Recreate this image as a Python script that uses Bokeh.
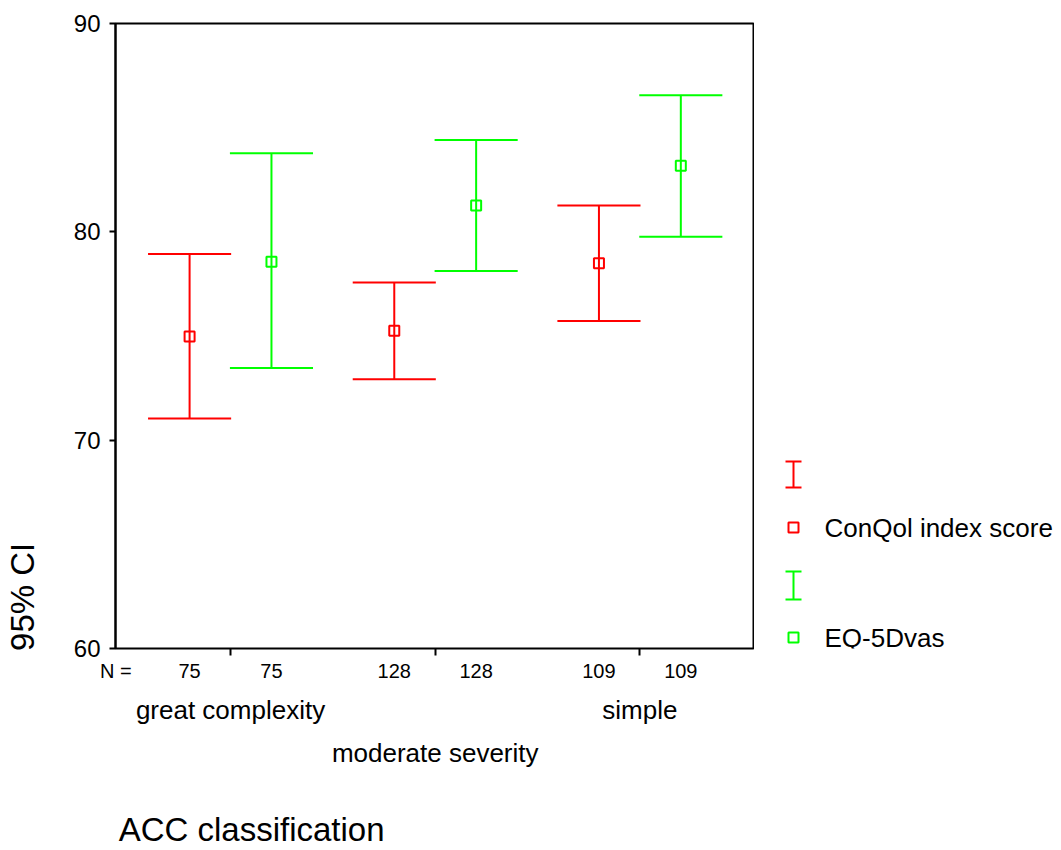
from bokeh.plotting import figure
from bokeh.models import Range1d, FixedTicker, LinearAxis, ColumnDataSource, LabelSet
from bokeh.layouts import row
from bokeh.embed import file_html
from bokeh.resources import INLINE
from bokeh.core.properties import value

# ---------------- data ----------------
categories = ["great complexity", "moderate severity", "simple"]
n_counts = [75, 128, 109]
conqol_mean = [74.98, 75.25, 78.49]
conqol_lower = [71.04, 72.93, 75.72]
conqol_upper = [78.94, 77.57, 81.26]
eq5d_mean = [78.57, 81.26, 83.17]
eq5d_lower = [73.46, 78.12, 79.76]
eq5d_upper = [83.77, 84.41, 86.56]
y_ticks = [60, 70, 80, 90]
series_names = ["ConQol index score", "EQ-5Dvas"]
series_colors = ["#ff0000", "#00ff00"]
x_title = "ACC classification"
y_title = "95% CI"

FONT = "Liberation Sans"
offset = 0.2          # side-by-side offset of the two series within a category
cap = 0.203           # half width of whisker caps
n_label_pos = -0.56   # where "N =" sits
x_title_pos = 0.103   # centre of the x title (data units)
y_title_pos = 62.48   # centre of the y title (data units)


def label_axis(ticks, labels, size, standoff, orientation="horizontal", **kw):
    ov = {}
    for t, l in zip(ticks, labels):
        ov[t] = l
        ov[str(t)] = l
    return LinearAxis(ticker=FixedTicker(ticks=ticks, minor_ticks=kw.pop("minor", [])),
                      axis_line_color=None,
                      major_tick_out=0, major_tick_in=0,
                      minor_tick_out=kw.pop("minor_out", 0), minor_tick_in=0,
                      minor_tick_line_width=2, minor_tick_line_color="black",
                      major_label_overrides=ov, major_label_orientation=orientation,
                      major_label_text_font_size=size, major_label_text_font=FONT,
                      major_label_text_color="black", major_label_standoff=standoff)


p = figure(width=754, height=850, x_range=Range1d(-0.562, 2.56), y_range=Range1d(60, 90),
           output_backend="svg", toolbar_location=None,
           x_axis_location=None, y_axis_location=None,
           min_border_left=115, min_border_right=0, min_border_top=23, min_border_bottom=202)
p.grid.visible = False
p.outline_line_color = "black"
p.outline_line_width = 2
p.background_fill_color = "white"
p.border_fill_color = "white"

# series drawing
for k, (means, lows, ups) in enumerate([(conqol_mean, conqol_lower, conqol_upper),
                                          (eq5d_mean, eq5d_lower, eq5d_upper)]):
    d = -offset if k == 0 else offset
    xs = [i + d for i in range(len(categories))]
    src = ColumnDataSource(dict(x=xs, xl=[x - cap for x in xs], xr=[x + cap for x in xs],
                                mean=means, lo=lows, up=ups))
    col = series_colors[k]
    p.segment(x0="x", y0="lo", x1="x", y1="up", source=src, line_color=col, line_width=2)
    p.segment(x0="xl", y0="up", x1="xr", y1="up", source=src, line_color=col, line_width=2)
    p.segment(x0="xl", y0="lo", x1="xr", y1="lo", source=src, line_color=col, line_width=2)
    p.scatter(x="x", y="mean", source=src, marker="square", size=10, fill_color=None,
              line_color=col, line_width=2)

# left axis
yaxis = LinearAxis(ticker=FixedTicker(ticks=y_ticks),
                   axis_line_width=2, axis_line_color="black",
                   major_tick_out=6, major_tick_in=0, major_tick_line_width=2,
                   minor_tick_out=0, minor_tick_in=0,
                   major_label_text_font_size="24px", major_label_text_font=FONT,
                   major_label_text_color="black", major_label_standoff=9)
p.add_layout(yaxis, "left")
p.add_layout(label_axis([y_title_pos], [y_title], "33px", 29, orientation="vertical"), "left")

# bottom axis 1: N counts + category tick marks
n_pos = [n_label_pos]
n_lab = ["N ="]
for i in range(len(categories)):
    for d in (-offset, offset):
        n_pos.append(i + d)
        n_lab.append(str(n_counts[i]))
p.add_layout(label_axis(n_pos, n_lab, "20px", 4,
                        minor=list(range(len(categories))), minor_out=7), "below")

# category labels, staggered on two rows
row1_pos = [0, 2]
p.add_layout(label_axis(row1_pos, [categories[t] for t in row1_pos], "26px", 10), "below")
row2_pos = [1]
p.add_layout(label_axis(row2_pos, [categories[t] for t in row2_pos], "26px", 10), "below")

# x title
p.add_layout(label_axis([x_title_pos], [x_title], "33px", 40), "below")

# legend panel (coordinates in page pixels)
leg = figure(width=307, height=850, x_range=Range1d(754, 1061), y_range=Range1d(648, 23),
             output_backend="svg", toolbar_location=None,
             x_axis_location=None, y_axis_location=None,
             min_border_left=0, min_border_right=0, min_border_top=23, min_border_bottom=202)
leg.grid.visible = False
leg.outline_line_color = None
leg_src = ColumnDataSource(dict(
    x=[793, 793], bar_top=[461, 571], bar_bot=[487, 599], sq_y=[527, 637],
    xl=[785, 785], xr=[801, 801], tx=[824, 824],
    color=series_colors, label=series_names))
leg.segment(x0="x", y0="bar_top", x1="x", y1="bar_bot", source=leg_src, line_color="color", line_width=2)
leg.segment(x0="xl", y0="bar_top", x1="xr", y1="bar_top", source=leg_src, line_color="color", line_width=2)
leg.segment(x0="xl", y0="bar_bot", x1="xr", y1="bar_bot", source=leg_src, line_color="color", line_width=2)
leg.scatter(x="x", y="sq_y", source=leg_src, marker="square", size=10, fill_color=None,
            line_color="color", line_width=2)
leg.add_layout(LabelSet(x="tx", y="sq_y", text="label", source=leg_src, text_font=value(FONT),
                        text_font_size=value("26px"), text_baseline="middle", text_align="left",
                        text_color="black"))

layout = row(p, leg)
open("out.html", "w").write(file_html(layout, INLINE))
